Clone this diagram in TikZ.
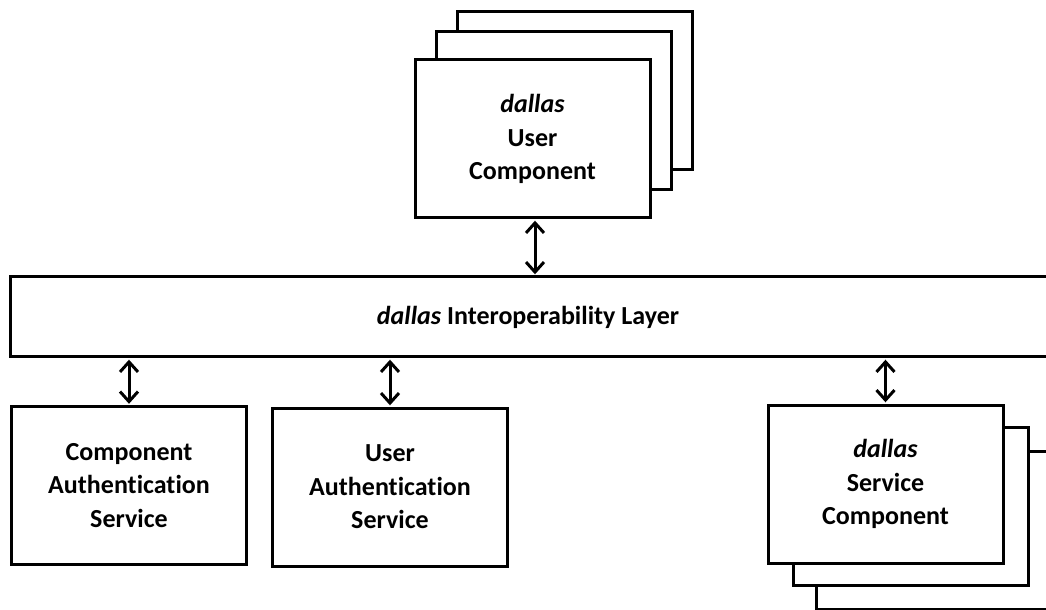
\documentclass[tikz,border=0pt]{standalone}
\usepackage{fontspec}
\setmainfont{Carlito}[Ligatures=NoCommon]
\usetikzlibrary{arrows.meta}
\tikzset{
  box/.style={draw=black, line width=1.5pt, fill=white, minimum width=117.5pt, minimum height=79pt, inner sep=0pt, align=center, font=\fontsize{13}{16.75}\selectfont\bfseries},
  arr/.style={line width=1.5pt, {Straight Barb[length=5pt,width=9pt,line width=1.5pt]}-{Straight Barb[length=5pt,width=9pt,line width=1.5pt]}, shorten <=0.6pt, shorten >=0.6pt},
  lbl/.style={inner sep=0pt, font=\fontsize{13}{16.75}\selectfont\bfseries}
}
\begin{document}
\begin{tikzpicture}[x=0.5pt,y=-0.5pt]
\clip (0,0) rectangle (1046,610);
\fill[white] (0,0) rectangle (1046,610);
% top stack
\node[box] (ucback) at (574.5,91) {};
\node[box] (ucmid) at (554,111) {};
\node[box] (ucomp) at (532.5,139) {\textit{dallas}\\User\\Component};
% layer
\node[box, minimum width=525pt, minimum height=40pt] (layer) at (535,317) {};
\node[lbl] (layerlabel) at (528,317) {\textit{dallas} Interoperability Layer};
% bottom boxes
\node[box] (cas) at (129,485.5) {Component\\Authentication\\Service};
\node[box] (uas) at (390,487) {User\\Authentication\\Service};
\node[box] (scback) at (933.5,530) {};
\node[box] (scmid) at (910.5,506) {};
\node[box] (scomp) at (885.5,484) {\textit{dallas}\\Service\\Component};
% connectors
\draw[arr] (ucomp.south -| 535,0) -- (layer.north -| 535,0);
\draw[arr] (cas.north) -- (cas.north |- layer.south);
\draw[arr] (uas.north) -- (uas.north |- layer.south);
\draw[arr] (scomp.north) -- (scomp.north |- layer.south);
\end{tikzpicture}
\end{document}
